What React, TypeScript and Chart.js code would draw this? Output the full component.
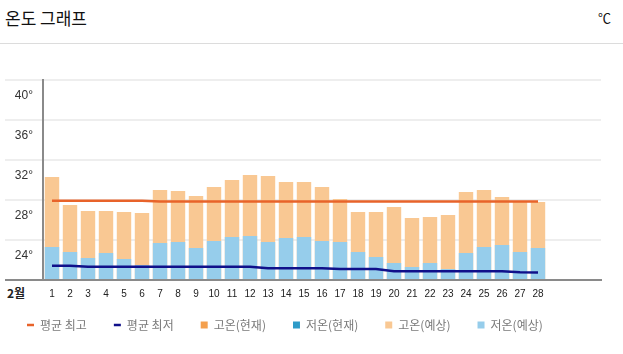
import React, { useEffect, useRef } from 'react';
import { Chart, registerables } from 'chart.js';

Chart.register(...registerables);

// ---- data ----
const dayLabels: string[] = [
  '1', '2', '3', '4', '5', '6', '7', '8', '9', '10', '11', '12', '13', '14',
  '15', '16', '17', '18', '19', '20', '21', '22', '23', '24', '25', '26', '27', '28',
  '', '', '',
];

const avgHigh: number[] = [
  27.93, 27.93, 27.93, 27.93, 27.93, 27.93, 27.84, 27.84, 27.84, 27.84, 27.84, 27.84, 27.84, 27.84,
  27.84, 27.84, 27.84, 27.84, 27.84, 27.84, 27.84, 27.84, 27.84, 27.84, 27.84, 27.84, 27.84, 27.84,
];

const avgLow: number[] = [
  21.43, 21.43, 21.33, 21.33, 21.33, 21.33, 21.33, 21.33, 21.33, 21.33, 21.33, 21.33, 21.17, 21.17,
  21.17, 21.17, 21.1, 21.1, 21.1, 20.87, 20.87, 20.87, 20.87, 20.87, 20.87, 20.87, 20.78, 20.75,
];

const highNow: number[] = [];
const lowNow: number[] = [];

const highForecast: number[] = [
  30.3, 27.5, 26.9, 26.9, 26.8, 26.7, 29.0, 28.9, 28.4, 29.3, 30.0, 30.5, 30.4, 29.8,
  29.8, 29.3, 28.1, 26.8, 26.8, 27.3, 26.2, 26.3, 26.5, 28.8, 29.0, 28.3, 27.8, 27.8,
];

const lowForecast: number[] = [
  23.3, 22.8, 22.2, 22.7, 22.1, 21.5, 23.7, 23.8, 23.2, 23.9, 24.3, 24.4, 23.8, 24.2,
  24.3, 23.9, 23.8, 22.8, 22.3, 21.7, 21.3, 21.7, 21.1, 22.7, 23.3, 23.5, 22.8, 23.2,
];

const yMin = 20;
const yMax = 40;
const yStep = 4;

const seriesNames = ['평균 최고', '평균 최저', '고온(현재)', '저온(현재)', '고온(예상)', '저온(예상)'];
const monthLabel = '2월';
const titleText = '온도 그래프';
const unitText = '℃';

const KR = "'Noto Sans CJK KR', 'Noto Sans', sans-serif";
const LAT = "'Liberation Sans', Arial, sans-serif";

// pulls the legend row up closer to the axis while keeping wide item spacing
const legendLift = {
  id: 'legendLift',
  afterLayout(chart: any) {
    const lg = chart.legend;
    if (lg) {
      lg.top -= 16;
      lg.bottom -= 16;
    }
  },
};

export default function App() {
  const canvasRef = useRef<HTMLCanvasElement>(null);

  useEffect(() => {
    const canvas = canvasRef.current;
    if (!canvas) return;
    const barCommon = {
      grouped: false,
      base: yMin,
      barPercentage: 0.8,
      categoryPercentage: 1,
      borderWidth: 0,
      pointStyle: 'rect' as const,
    };
    const chart = new Chart(canvas, {
      type: 'bar',
      data: {
        labels: dayLabels,
        datasets: [
          {
            type: 'line',
            label: seriesNames[0],
            data: avgHigh,
            borderColor: '#E8632A',
            backgroundColor: '#E8632A',
            borderWidth: 2.5,
            pointRadius: 0,
            pointStyle: 'line',
            tension: 0,
            order: 0,
          } as any,
          {
            type: 'line',
            label: seriesNames[1],
            data: avgLow,
            borderColor: '#10108A',
            backgroundColor: '#10108A',
            borderWidth: 2.5,
            pointRadius: 0,
            pointStyle: 'line',
            tension: 0,
            order: 0,
          } as any,
          { ...barCommon, label: seriesNames[2], data: highNow, backgroundColor: '#F4A04E', order: 2 },
          { ...barCommon, label: seriesNames[3], data: lowNow, backgroundColor: '#2E9BC8', order: 1 },
          { ...barCommon, label: seriesNames[4], data: highForecast, backgroundColor: '#F9C893', order: 2 },
          { ...barCommon, label: seriesNames[5], data: lowForecast, backgroundColor: '#96CDEB', order: 1 },
        ],
      },
      options: {
        animation: false,
        responsive: true,
        maintainAspectRatio: false,
        layout: { padding: { top: 36, right: 22, bottom: 5, left: 0 } },
        plugins: {
          tooltip: { enabled: false },
          legend: {
            position: 'bottom',
            align: 'start',
            labels: {
              usePointStyle: true,
              pointStyleWidth: 7,
              boxHeight: 7,
              padding: 27,
              color: '#7a7a7a',
              font: { size: 12, family: KR },
              sort: (a: any, b: any) => a.datasetIndex - b.datasetIndex,
            },
          },
        },
        scales: {
          x: {
            offset: true,
            grid: { display: false, drawTicks: false },
            border: { display: true, color: '#8a8a8a', width: 2 },
            ticks: {
              color: '#222',
              font: { size: 10, family: LAT },
              padding: 8,
              autoSkip: false,
              maxRotation: 0,
              minRotation: 0,
            },
          },
          y: {
            min: yMin,
            max: yMax,
            ticks: {
              stepSize: yStep,
              callback: (v: any) => (v === yMin ? '' : `${v}°`),
              labelOffset: 16,
              padding: -28,
              color: '#333',
              font: { size: 12, family: LAT },
            },
            grid: {
              color: (ctx: any) => (ctx.tick && ctx.tick.value === yMin ? '#8a8a8a' : '#eeeeee'),
              lineWidth: 2,
              tickLength: 38,
              drawTicks: true,
            },
            border: { display: true, color: '#8a8a8a', width: 2 },
            afterFit: (s: any) => {
              s.width = 43;
            },
          },
        },
      },
      plugins: [legendLift],
    });
    return () => chart.destroy();
  }, []);

  return (
    <div style={{ position: 'fixed', left: 0, top: 0, width: 623, height: 354, background: '#fff', overflow: 'hidden' }}>
      <div
        style={{
          position: 'absolute', left: 5, top: 6, height: 24, lineHeight: '24px',
          fontFamily: KR, fontSize: 17, color: '#111',
        }}
      >
        {titleText}
      </div>
      <div
        style={{
          position: 'absolute', right: 12, top: 8, height: 20, lineHeight: '20px',
          fontFamily: KR, fontSize: 13, color: '#111',
        }}
      >
        {unitText}
      </div>
      <div style={{ position: 'absolute', left: 0, top: 43, width: 623, height: 1, background: '#dcdcdc' }} />
      <div
        style={{
          position: 'absolute', left: 7, top: 285, height: 16, lineHeight: '16px',
          fontFamily: KR, fontSize: 12, fontWeight: 700, color: '#222',
        }}
      >
        {monthLabel}
      </div>
      <div style={{ position: 'absolute', left: 0, top: 44, width: 623, height: 318 }}>
        <canvas ref={canvasRef} />
      </div>
    </div>
  );
}
